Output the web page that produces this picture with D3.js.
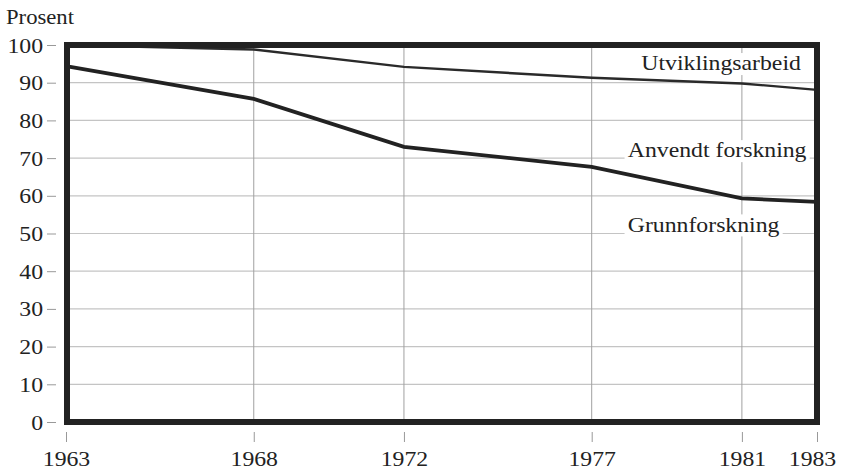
<!DOCTYPE html>
<html>
<head>
<meta charset="utf-8">
<script src="https://cdn.jsdelivr.net/npm/d3@7"></script>
<style>
  body { margin: 0; background: #fff; }
  text { font-family: "Liberation Serif", "DejaVu Serif", serif; fill: #222; }
</style>
</head>
<body>
<div id="wrapper"></div>
<script>
const years = [1963, 1968, 1972, 1977, 1981, 1983]
// upper boundary: grunnforskning + anvendt forskning (rest up to 100 = utviklingsarbeid)
const topLine = [100, 98.8, 94.2, 91.3, 89.8, 88.1]
// lower boundary: grunnforskning share
const midLine = [94.4, 85.7, 73.0, 67.7, 59.3, 58.4]
const yTicks = [0, 10, 20, 30, 40, 50, 60, 70, 80, 90, 100]
const labelNames = ["Utviklingsarbeid", "Anvendt forskning", "Grunnforskning"]
const labelValues = [93.3, 70.2, 50.5]
const labelYears = [1982.57, 1982.72, 1982.0]

const stretch = 1.08
const serif = '"Liberation Serif", "DejaVu Serif", serif'

const dimensions = {
    width: 843,
    height: 471,
    margin: { top: 45, right: 26, bottom: 49, left: 66 },
}
dimensions.boundedWidth = dimensions.width - dimensions.margin.left - dimensions.margin.right
dimensions.boundedHeight = dimensions.height - dimensions.margin.top - dimensions.margin.bottom

const svg = d3.select("#wrapper").append("svg")
    .attr("width", dimensions.width)
    .attr("height", dimensions.height)

const bounds = svg.append("g")
    .attr("transform", `translate(${dimensions.margin.left},${dimensions.margin.top})`)

const xScale = d3.scaleLinear()
    .domain([1963, 1983])
    .range([0, dimensions.boundedWidth])

const yScale = d3.scaleLinear()
    .domain([0, 100])
    .range([dimensions.boundedHeight, 0])

// grid
bounds.append("g").selectAll("line")
    .data(yTicks.filter(d => d > 0 && d < 100))
    .join("line")
    .attr("x1", 0).attr("x2", dimensions.boundedWidth)
    .attr("y1", d => yScale(d)).attr("y2", d => yScale(d))
    .attr("stroke", "#c4c4c4").attr("stroke-width", 1.2)

bounds.append("g").selectAll("line")
    .data(years.slice(1, -1))
    .join("line")
    .attr("x1", d => xScale(d)).attr("x2", d => xScale(d))
    .attr("y1", 0).attr("y2", dimensions.boundedHeight)
    .attr("stroke", "#a0a0a0").attr("stroke-width", 1)

// series labels with white backing so the grid is hidden behind the text
const labelGroup = bounds.append("g")
labelNames.forEach((name, i) => {
    const g = labelGroup.append("g")
        .attr("transform", `translate(${xScale(labelYears[i])},${yScale(labelValues[i])}) scale(${stretch},1)`)
    const t = g.append("text")
        .attr("text-anchor", "end")
        .style("font-family", serif)
        .style("font-size", "22px")
        .text(name)
    const bb = t.node().getBBox()
    g.insert("rect", "text")
        .attr("x", bb.x - 3).attr("y", bb.y + 2)
        .attr("width", bb.width + 6).attr("height", bb.height - 2)
        .attr("fill", "#fff")
})

// lines
const lineGen = d3.line()
    .x((d, i) => xScale(years[i]))
    .y(d => yScale(d))

bounds.append("path")
    .datum(topLine)
    .attr("d", lineGen)
    .attr("fill", "none")
    .attr("stroke", "#2a2a2a")
    .attr("stroke-width", 2.4)

bounds.append("path")
    .datum(midLine)
    .attr("d", lineGen)
    .attr("fill", "none")
    .attr("stroke", "#222")
    .attr("stroke-width", 3.8)

// frame
bounds.append("rect")
    .attr("x", 1).attr("y", 0)
    .attr("width", dimensions.boundedWidth - 1)
    .attr("height", dimensions.boundedHeight)
    .attr("fill", "none")
    .attr("stroke", "#222")
    .attr("stroke-width", 6)

// y axis
const yAxis = bounds.append("g")
    .attr("transform", "translate(-10,0)")
    .call(d3.axisLeft(yScale).tickValues(yTicks).tickSize(9).tickPadding(3))
yAxis.attr("font-family", null)
yAxis.select(".domain").remove()
yAxis.selectAll(".tick line").attr("stroke", "#999")
yAxis.selectAll(".tick text")
    .style("font-family", serif)
    .style("font-size", "22px")
    .attr("fill", "#222")
    .attr("transform", `scale(${stretch},1)`)

// x axis
const xAxis = bounds.append("g")
    .attr("transform", `translate(0,${dimensions.boundedHeight + 10})`)
    .call(d3.axisBottom(xScale).tickValues(years).tickFormat(d3.format("d")).tickSize(10).tickPadding(8))
xAxis.attr("font-family", null)
xAxis.select(".domain").remove()
xAxis.selectAll(".tick line").attr("stroke", "#999")
xAxis.selectAll(".tick text")
    .style("font-family", serif)
    .style("font-size", "22px")
    .attr("fill", "#222")
    .attr("transform", d => d === 1983 ? `translate(-5,0) scale(${stretch},1)` : `scale(${stretch},1)`)

svg.append("text")
    .attr("transform", `translate(6,24) scale(${stretch},1)`)
    .style("font-family", serif)
    .style("font-size", "21px")
    .text("Prosent")
</script>
</body>
</html>
